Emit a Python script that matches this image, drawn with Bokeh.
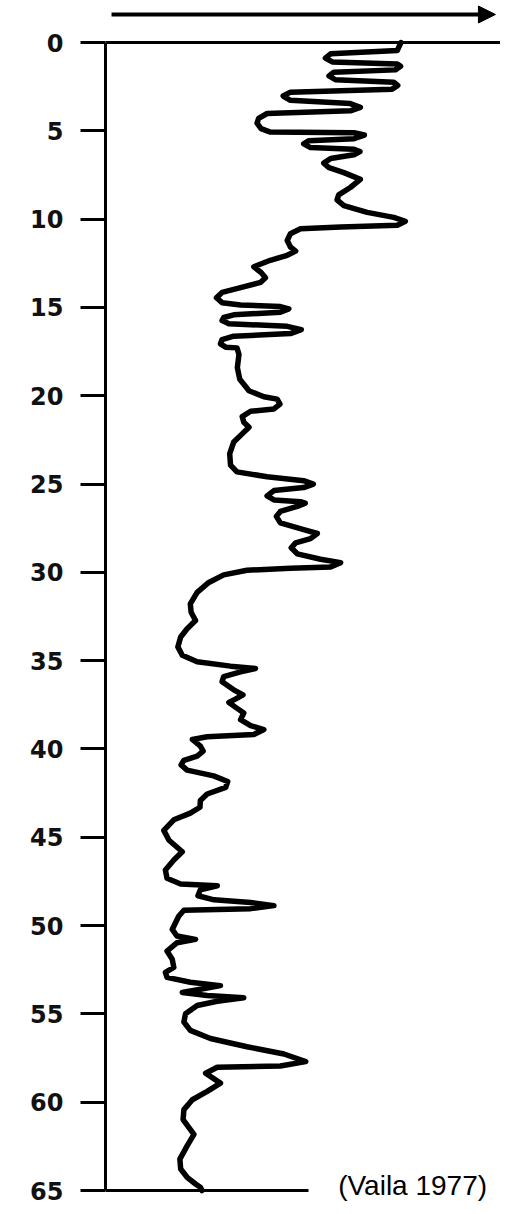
from bokeh.plotting import figure
from bokeh.models import Range1d, FixedTicker, Arrow, NormalHead, Label, Span
from bokeh.embed import file_html
from bokeh.resources import INLINE

# Log curve: depth and relative reading (0-100 of the panel width)
depth = [0.00, 0.24, 0.45, 0.64, 0.88, 1.10, 1.22, 1.35, 1.55, 1.68,
         1.89, 2.11, 2.25, 2.43, 2.64, 2.81, 3.03, 3.27, 3.46, 3.67,
         3.87, 4.02, 4.29, 4.57, 4.88, 5.07, 5.11, 5.24, 5.45, 5.56,
         5.74, 5.95, 6.04, 6.18, 6.36, 6.57, 6.83, 7.09, 7.37, 7.75,
         8.21, 8.63, 8.91, 9.24, 9.62, 9.90, 10.12, 10.35, 10.44, 10.55,
         10.83, 11.21, 11.58, 11.81, 12.05, 12.33, 12.70, 13.02, 13.32, 13.58,
         13.88, 14.15, 14.45, 14.73, 14.86, 14.95, 15.08, 15.27, 15.42, 15.57,
         15.74, 15.92, 16.07, 16.26, 16.48, 16.63, 16.82, 17.06, 17.25, 17.29,
         17.66, 18.41, 19.07, 19.72, 20.06, 20.19, 20.47, 20.75, 20.88, 21.18,
         21.50, 21.78, 22.16, 22.62, 23.28, 23.93, 24.31, 24.59, 24.81, 25.00,
         25.20, 25.37, 25.67, 25.90, 26.00, 26.08, 26.27, 26.55, 26.83, 27.20,
         27.58, 27.80, 28.09, 28.33, 28.61, 28.95, 29.26, 29.45, 29.69, 29.77,
         29.88, 30.14, 30.57, 31.13, 31.79, 32.26, 32.73, 33.19, 33.66, 34.22,
         34.69, 35.06, 35.31, 35.44, 35.63, 35.90, 36.19, 36.65, 36.94, 37.18,
         37.37, 37.63, 37.96, 38.34, 38.68, 38.90, 39.18, 39.31, 39.46, 39.84,
         40.12, 40.40, 40.64, 40.90, 41.20, 41.52, 41.84, 42.17, 42.55, 42.92,
         43.30, 43.63, 44.01, 44.61, 45.17, 45.82, 46.29, 46.85, 47.32, 47.64,
         47.75, 47.97, 48.31, 48.54, 48.69, 48.87, 49.04, 49.13, 49.47, 50.22,
         50.59, 50.78, 50.97, 51.44, 51.90, 52.37, 52.65, 52.93, 53.21, 53.40,
         53.60, 53.79, 53.96, 54.09, 54.28, 54.52, 54.99, 55.46, 55.93, 56.39,
         56.86, 57.27, 57.70, 57.95, 58.02, 58.36, 58.92, 59.39, 59.86, 60.42,
         60.98, 61.82, 62.47, 63.22, 63.78, 64.25, 64.63, 64.81, 65.00]
value = [73.5, 73.0, 72.6, 56.0, 54.7, 56.4, 72.6, 73.4, 72.1, 56.8,
         55.6, 57.2, 71.7, 72.7, 71.3, 46.0, 44.2, 46.0, 60.9, 63.4,
         60.9, 40.2, 38.1, 37.7, 38.7, 41.0, 61.8, 64.4, 61.8, 50.6,
         49.3, 51.0, 61.8, 63.3, 61.8, 56.0, 54.3, 55.6, 59.3, 63.4,
         60.9, 58.0, 57.6, 59.3, 65.1, 71.7, 74.6, 72.6, 58.5, 48.5,
         46.0, 45.2, 46.0, 47.3, 45.2, 41.0, 36.9, 38.7, 39.8, 38.6,
         33.6, 29.0, 27.6, 29.0, 33.6, 43.5, 45.6, 43.5, 31.9, 29.4,
         29.0, 30.7, 45.2, 48.7, 46.0, 31.9, 29.0, 28.6, 29.9, 32.7,
         33.2, 32.8, 33.4, 35.7, 39.4, 42.7, 43.4, 41.9, 36.1, 34.0,
         34.4, 35.7, 34.0, 31.9, 30.9, 31.1, 32.7, 40.2, 49.3, 51.7,
         49.3, 41.9, 40.2, 41.9, 48.5, 49.7, 47.7, 43.5, 42.5, 43.5,
         49.3, 52.7, 51.0, 47.3, 46.2, 47.7, 53.5, 58.5, 56.0, 46.0,
         35.2, 29.4, 25.7, 22.8, 21.1, 21.3, 22.4, 20.3, 18.7, 18.0,
         19.1, 22.8, 31.1, 37.3, 33.6, 29.4, 29.0, 31.9, 34.2, 32.3,
         30.7, 32.3, 34.4, 33.6, 36.1, 39.4, 36.9, 25.3, 21.6, 23.6,
         24.3, 22.8, 19.5, 18.8, 20.3, 26.9, 30.4, 29.9, 25.3, 23.6,
         23.5, 21.1, 17.0, 14.5, 15.8, 19.1, 17.0, 14.9, 15.3, 18.7,
         27.8, 23.6, 23.0, 27.0, 36.1, 41.9, 36.1, 19.5, 18.2, 16.6,
         17.8, 22.4, 17.8, 15.3, 16.6, 17.0, 14.9, 15.3, 21.1, 28.6,
         23.6, 19.1, 25.3, 34.4, 27.8, 22.8, 19.9, 19.5, 21.1, 26.1,
         35.2, 44.4, 49.8, 43.5, 27.8, 24.9, 28.6, 25.3, 21.6, 19.5,
         19.3, 22.0, 20.3, 18.5, 18.7, 20.3, 22.4, 23.6, 24.0]
depth_ticks = [0, 5, 10, 15, 20, 25, 30, 35, 40, 45, 50, 55, 60, 65]
source_note = "(Vaila 1977)"

p = figure(width=500, height=1206, output_backend="svg", toolbar_location=None,
           x_range=Range1d(0, 98.26), y_range=Range1d(65.904, -2.378),
           min_border_left=105, min_border_right=0, min_border_top=0,
           min_border_bottom=0, x_axis_location=None, title=None)

p.grid.visible = False
p.outline_line_color = None
p.background_fill_color = "white"
p.border_fill_color = "white"

ax = p.yaxis[0]
ax.bounds = (0, 65)
ax.ticker = FixedTicker(ticks=depth_ticks, minor_ticks=[])
ax.axis_line_width = 3
ax.axis_line_color = "black"
ax.major_tick_line_width = 3
ax.major_tick_line_color = "black"
ax.major_tick_out = 25
ax.major_tick_in = 0
ax.minor_tick_out = 0
ax.minor_tick_in = 0
ax.major_label_standoff = 17
ax.major_label_text_font = "DejaVu Sans"
ax.major_label_text_font_size = "24px"
ax.major_label_text_font_style = "bold"
ax.major_label_text_color = "#111111"

# frame lines
p.add_layout(Span(location=0, dimension="width", line_color="black", line_width=3))
p.segment(x0=[0], y0=[65], x1=[50.5], y1=[65], line_color="black", line_width=3)

# log curve
p.line(value, depth, line_color="black", line_width=5.5, line_join="round", line_cap="round")

# arrow above the panel
p.add_layout(Arrow(end=NormalHead(size=17, fill_color="black", line_color="black"),
                   x_start=1.5, y_start=-1.585, x_end=97, y_end=-1.585,
                   line_width=4, line_color="black"))

p.add_layout(Label(x=76.4, y=64.72, text=source_note, text_font="Liberation Sans",
                   text_font_size="28px", text_align="center",
                   text_baseline="alphabetic", text_color="black"))

open("out.html", "w").write(file_html(p, INLINE))
